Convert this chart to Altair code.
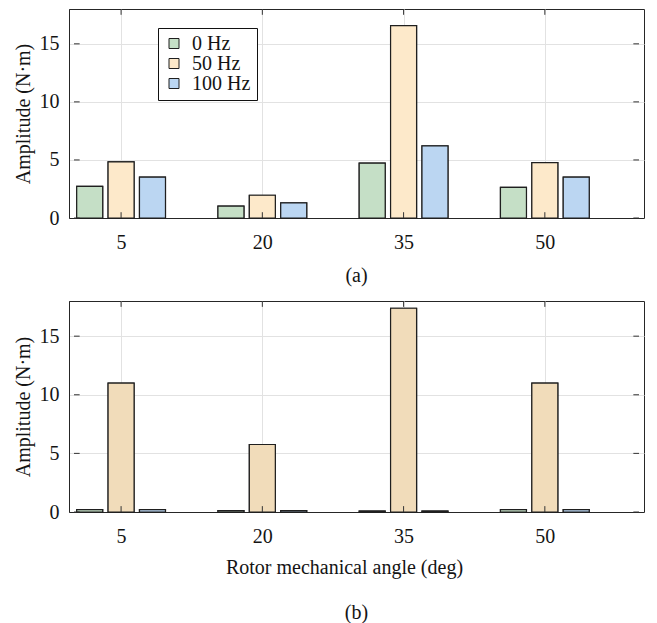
import altair as alt
import pandas as pd

# ---- data ----
angles = [5, 20, 35, 50]
series = ["0 Hz", "50 Hz", "100 Hz"]

a_0hz = [2.73, 1.02, 4.72, 2.64]
a_50hz = [4.83, 1.96, 16.57, 4.77]
a_100hz = [3.52, 1.31, 6.22, 3.52]

b_0hz = [0.20, 0.12, 0.08, 0.20]
b_50hz = [11.0, 5.76, 17.38, 11.0]
b_100hz = [0.20, 0.12, 0.08, 0.20]

legend_colors = ["#c5dfc6", "#fde9ca", "#bbd6f2"]
bar_colors_a = ["#c5dfc6", "#fde9ca", "#bbd6f2"]
bar_colors_b = ["#c5dfc6", "#f1dcba", "#bbd6f2"]

x_ticks = [5, 20, 35, 50]
y_ticks = [0, 5, 10, 15]
x_domain = [0, 60]
y_domain = [0, 18]

FONT = "Liberation Serif"
TXT = "#141414"
W = 575


def make_df(vals, colors):
    rows = []
    for si, (s, v, c) in enumerate(zip(series, vals, colors)):
        for a, val in zip(angles, v):
            rows.append({"angle": a, "series": s, "idx": si, "value": val, "fillc": c})
    return pd.DataFrame(rows)


def panel(vals, colors, label, xtitle, legend_y, h, title_offset):
    df = make_df(vals, colors)
    xscale = alt.Scale(domain=x_domain, nice=False, zero=False)
    yscale = alt.Scale(domain=y_domain, nice=False)
    xaxis = alt.Axis(values=x_ticks, grid=True, ticks=False, tickSize=0,
                     labelPadding=14, title=xtitle if xtitle else None,
                     titlePadding=11, titleX=275, titleAlign="center")
    yaxis = alt.Axis(values=y_ticks, grid=True, ticks=False, tickSize=0,
                     labelPadding=10, title="Amplitude (N·m)", titlePadding=6)
    base = alt.Chart(df).transform_calculate(
        xc="datum.angle + (datum.idx - 1) * 10 / 3"
    )
    legend_bars = base.mark_bar(size=26, stroke="#1f1f1f", strokeWidth=1.2).encode(
        x=alt.X("xc:Q", scale=xscale, axis=xaxis),
        y=alt.Y("value:Q", scale=yscale, axis=yaxis),
        fill=alt.Fill("series:N", scale=alt.Scale(domain=series, range=legend_colors),
                      legend=alt.Legend(title=None, orient="none", legendX=89, legendY=legend_y,
                                        symbolType="square", symbolSize=100,
                                        symbolStrokeColor="#333333", symbolStrokeWidth=1,
                                        labelFont=FONT, labelFontSize=20, labelColor=TXT,
                                        labelOffset=8, rowPadding=-3, clipHeight=19,
                                        padding=6, strokeColor="#111111", fillColor="white",
                                        cornerRadius=0,
                                        labelExpr="datum.label + '\u00a0\u00a0'")),
    )
    real_bars = base.mark_bar(size=26, stroke="#1f1f1f", strokeWidth=1.2).encode(
        x=alt.X("xc:Q", scale=xscale, axis=xaxis),
        y=alt.Y("value:Q", scale=yscale, axis=yaxis),
        fill=alt.Fill("fillc:N", scale=None),
    )
    # small inward tick marks on all four sides (MATLAB style), in data units
    xt = pd.DataFrame({"t": x_ticks})
    yt = pd.DataFrame({"t": y_ticks})
    rule = dict(color="#333333", strokeWidth=1)
    tb = alt.Chart(xt).mark_rule(**rule).encode(
        x=alt.X("t:Q", scale=xscale, axis=xaxis),
        y=alt.YDatum(0, scale=yscale, axis=yaxis), y2=alt.Y2Datum(0.5))
    tt = alt.Chart(xt).mark_rule(**rule).encode(
        x=alt.X("t:Q", scale=xscale, axis=xaxis),
        y=alt.YDatum(18, scale=yscale, axis=yaxis), y2=alt.Y2Datum(17.5))
    tl = alt.Chart(yt).mark_rule(**rule).encode(
        y=alt.Y("t:Q", scale=yscale, axis=yaxis),
        x=alt.XDatum(0, scale=xscale, axis=xaxis), x2=alt.X2Datum(0.6))
    tr = alt.Chart(yt).mark_rule(**rule).encode(
        y=alt.Y("t:Q", scale=yscale, axis=yaxis),
        x=alt.XDatum(60, scale=xscale, axis=xaxis), x2=alt.X2Datum(59.4))
    return alt.layer(legend_bars, real_bars, tb, tt, tl, tr).properties(
        width=W, height=h,
        title=alt.TitleParams(label, orient="bottom", anchor="middle", font=FONT, fontSize=20,
                              fontWeight="normal", color=TXT, offset=title_offset),
    )


top = panel([a_0hz, a_50hz, a_100hz], bar_colors_a, "(a)", None, 19, 209, 14)
bottom = panel([b_0hz, b_50hz, b_100hz], bar_colors_b, "(b)",
               "Rotor mechanical angle (deg)", 21, 211, 26)

chart = alt.vconcat(top, bottom, spacing=13).properties(
    padding={"top": 0, "left": 4, "right": 0, "bottom": 0}
).configure_axis(
    labelFont=FONT, labelFontSize=20, labelColor=TXT,
    titleFont=FONT, titleFontSize=20, titleFontWeight="normal", titleColor=TXT,
    gridColor="#e2e2e2", gridWidth=1, domainColor="#262626", domainWidth=1,
).configure_view(stroke="#262626", strokeWidth=1)

chart.save("out.html", embed_options={"renderer": "svg", "actions": False})
